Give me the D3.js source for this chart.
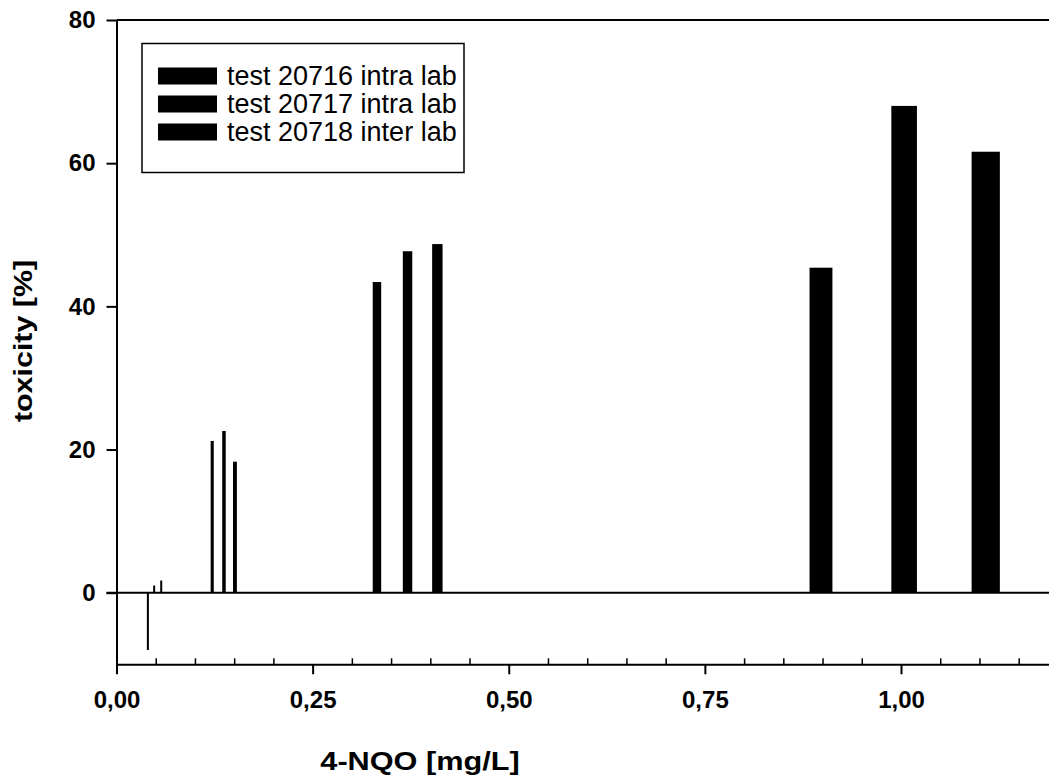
<!DOCTYPE html>
<html>
<head>
<meta charset="utf-8">
<script src="https://cdn.jsdelivr.net/npm/d3@7"></script>
<style>
  html, body { margin: 0; padding: 0; background: #fff; }
  svg { display: block; font-family: "Liberation Sans", Arial, sans-serif; }
</style>
</head>
<body>
<svg id="chart" width="1049" height="784"></svg>
<script>
// Toxicity of 4-NQO, three tests, four concentration levels each
const seriesNames = ["test 20716 intra lab", "test 20717 intra lab", "test 20718 inter lab"];
const conc20716 = [0.040, 0.122, 0.332, 0.898];
const tox20716  = [-8.0, 21.2, 43.4, 45.4];
const conc20717 = [0.048, 0.137, 0.371, 1.004];
const tox20717  = [1.0, 22.6, 47.7, 68.0];
const conc20718 = [0.057, 0.151, 0.409, 1.108];
const tox20718  = [1.7, 18.3, 48.7, 61.6];

const xMajorTicks = [0, 0.25, 0.5, 0.75, 1.0];
const xTickLabels = ["0,00", "0,25", "0,50", "0,75", "1,00"];
const xMinorTicks = [0.05, 0.10, 0.15, 0.20, 0.30, 0.35, 0.40, 0.45, 0.55, 0.60, 0.65, 0.70,
                     0.80, 0.85, 0.90, 0.95, 1.05, 1.10, 1.15];
const yTicks = [0, 20, 40, 60, 80];

const svg = d3.select("#chart");
const W = 1049;

const x = d3.scaleLinear().domain([0, 1.2]).range([116.5, 1057.9]);
const y = d3.scaleLinear().domain([-10, 80]).range([664.3, 20]);

// bar width grows with the concentration (fraction of x), never thinner than 2px
const barFrac = 0.0325;
const barW = c => Math.max(2, x(c * barFrac) - x(0));

const series = [
  { conc: conc20716, tox: tox20716 },
  { conc: conc20717, tox: tox20717 },
  { conc: conc20718, tox: tox20718 }
];
const bars = series.flatMap((s, si) => s.conc.map((c, i) => ({ c, v: s.tox[i], si })));

const plot = svg.append("g");

// bars
plot.selectAll("rect.bar").data(bars).enter().append("rect")
  .attr("class", "bar")
  .attr("x", d => x(d.c) - barW(d.c) / 2)
  .attr("width", d => barW(d.c))
  .attr("y", d => y(Math.max(0, d.v)))
  .attr("height", d => Math.abs(y(d.v) - y(0)))
  .attr("fill", "#000");

// zero line across the plot
plot.append("line")
  .attr("x1", x(0) - 10).attr("x2", W)
  .attr("y1", y(0)).attr("y2", y(0))
  .attr("stroke", "#000").attr("stroke-width", 2);

// top frame line
plot.append("line")
  .attr("x1", x(0)).attr("x2", W)
  .attr("y1", y(80)).attr("y2", y(80))
  .attr("stroke", "#000").attr("stroke-width", 2);

// y axis
const yAxis = svg.append("g")
  .attr("transform", `translate(${x(0)},0)`)
  .call(d3.axisLeft(y).tickValues(yTicks).tickSize(10).tickSizeOuter(0).tickPadding(11)
    .tickFormat(d3.format("d")));
yAxis.select(".domain").attr("stroke-width", 2);
yAxis.selectAll(".tick line").attr("stroke-width", 2);
yAxis.selectAll(".tick text")
  .attr("font-size", 24).attr("font-weight", "bold")
  .attr("font-family", "Liberation Sans, Arial, sans-serif").attr("fill", "#000");

// x axis: major ticks outside, minor ticks inside
const xAxis = svg.append("g")
  .attr("transform", `translate(0,${y(-10)})`)
  .call(d3.axisBottom(x).tickValues(xMajorTicks).tickSize(10).tickSizeOuter(0).tickPadding(17)
    .tickFormat((d, i) => xTickLabels[i]));
xAxis.select(".domain").attr("stroke-width", 2);
xAxis.selectAll(".tick line").attr("stroke-width", 2);
xAxis.selectAll(".tick text")
  .attr("font-size", 24).attr("font-weight", "bold")
  .attr("font-family", "Liberation Sans, Arial, sans-serif").attr("fill", "#000");

const xMinor = svg.append("g")
  .attr("transform", `translate(0,${y(-10)})`)
  .call(d3.axisTop(x).tickValues(xMinorTicks).tickSize(6).tickSizeOuter(0).tickFormat(""));
xMinor.select(".domain").remove();
xMinor.selectAll(".tick line").attr("stroke-width", 1.5);

// axis titles
svg.append("text")
  .attr("transform", "translate(420,770) scale(1.18,1)")
  .attr("text-anchor", "middle")
  .attr("font-size", 26).attr("font-weight", "bold")
  .text("4-NQO [mg/L]");

svg.append("text")
  .attr("transform", "translate(32,341) rotate(-90) scale(1.17,1)")
  .attr("text-anchor", "middle")
  .attr("font-size", 26).attr("font-weight", "bold")
  .text("toxicity [%]");

// legend
const legend = svg.append("g");
legend.append("rect")
  .attr("x", 142).attr("y", 43.5).attr("width", 322).attr("height", 129)
  .attr("fill", "#fff").attr("stroke", "#000").attr("stroke-width", 1.5);
const items = legend.selectAll("g.item").data(seriesNames).enter().append("g")
  .attr("class", "item")
  .attr("transform", (d, i) => `translate(0,${67.5 + i * 28})`);
items.append("rect")
  .attr("x", 158).attr("y", 0).attr("width", 59).attr("height", 17)
  .attr("fill", "#000");
items.append("text")
  .attr("x", 227).attr("y", 17.5)
  .attr("font-size", 27)
  .attr("fill", "#000")
  .text(d => d);
</script>
</body>
</html>
